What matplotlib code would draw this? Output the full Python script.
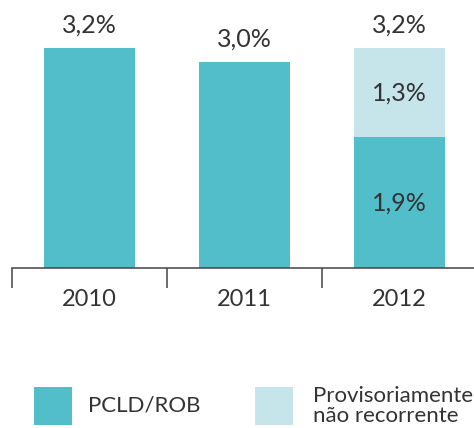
import matplotlib
matplotlib.use("Agg")
import matplotlib.pyplot as plt
from matplotlib.patches import Rectangle

# PCLD/ROB by year, with the 2012 non-recurring provision stacked on top
anos = ["2010", "2011", "2012"]
pcld_rob = [3.2, 3.0, 1.9]
provisorio = [0.0, 0.0, 1.3]
totais = [3.2, 3.0, 3.2]

cor_escura = "#52BECA"
cor_clara = "#C5E5EA"
cor_texto = "#333333"

plt.rcParams['font.family'] = ['Lato', 'DejaVu Sans']

W, H = 474, 428
fig = plt.figure(figsize=(W / 100, H / 100), dpi=100)
ax = fig.add_axes([12 / W, (H - 268) / H, (W - 12) / W, 268 / H])

x = list(range(len(anos)))
largura = 0.59
ax.bar(x, pcld_rob, width=largura, color=cor_escura)
ax.bar(x, provisorio, width=largura, bottom=pcld_rob, color=cor_clara)

def fmt(v):
    return f"{v:.1f}%".replace(".", ",")

# totals above the bars
for xi, t in zip(x, totais):
    ax.text(xi, t + 0.33, fmt(t), ha="center", va="center",
            fontsize=18, color=cor_texto)

# segment values inside the stacked bar
for xi, a, b in zip(x, pcld_rob, provisorio):
    if b > 0:
        ax.text(xi, a / 2, fmt(a), ha="center", va="center", fontsize=18, color=cor_texto)
        ax.text(xi, a + b / 2, fmt(b), ha="center", va="center", fontsize=18, color=cor_texto)

ax.set_xlim(-0.5, 2.48)
ax.set_ylim(0, 268 / 68.75)

for s in ["left", "right", "top"]:
    ax.spines[s].set_visible(False)
ax.spines["bottom"].set_color("#444444")
ax.spines["bottom"].set_linewidth(1.1)
ax.set_yticks([])

# separators between the years
ax.set_xticks([-0.5, 0.5, 1.5], minor=True)
ax.tick_params(axis="x", which="minor", length=14.5, width=1.1, color="#444444")
ax.set_xticks(x)
ax.set_xticklabels(anos, fontsize=17, color=cor_texto)
ax.tick_params(axis="x", which="major", length=0, pad=15)

# legend
itens = [(cor_escura, "PCLD/ROB", 34, 88), (cor_clara, "Provisoriamente\nnão recorrente", 255, 313)]
for cor, rotulo, xq, xt in itens:
    fig.add_artist(Rectangle((xq / W, (H - 425) / H), 38 / W, 38 / H,
                             transform=fig.transFigure, color=cor, lw=0))
    fig.text(xt / W, (H - 406) / H, rotulo, ha="left", va="center",
             fontsize=16, color=cor_texto, linespacing=0.95)

fig.savefig("out.png", dpi=100)
